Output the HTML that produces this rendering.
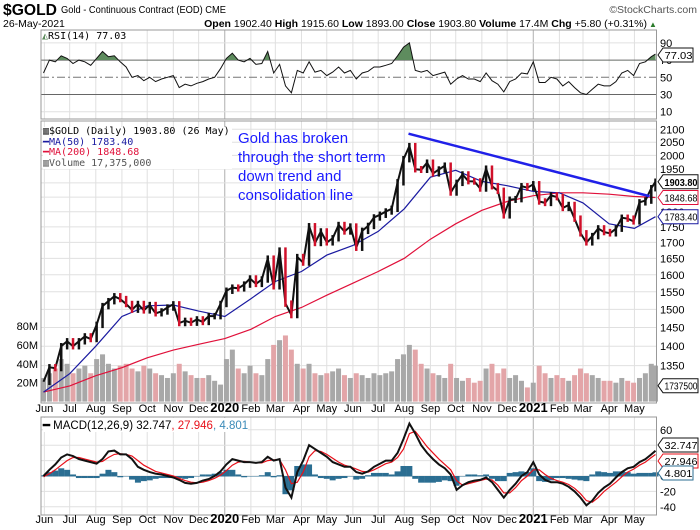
<!DOCTYPE html>
<html><head><meta charset="utf-8"><style>
body{margin:0;background:#fff;}
svg{display:block;font-family:"Liberation Sans",sans-serif;}
</style></head><body>
<svg id="c" width="700" height="530" viewBox="0 0 700 530">
<text x="3" y="15" font-size="16" font-weight="bold" textLength="54" lengthAdjust="spacingAndGlyphs">$GOLD</text>
<text x="61" y="13" font-size="10.5" textLength="165" lengthAdjust="spacingAndGlyphs">Gold - Continuous Contract (EOD) CME</text>
<text x="697" y="13" font-size="10.5" fill="#555" text-anchor="end">©StockCharts.com</text>
<text x="3" y="27" font-size="10.5">26-May-2021</text>
<text x="647" y="27" font-size="10.5" text-anchor="end"><tspan font-weight="bold">Open</tspan> 1902.40 <tspan font-weight="bold">High</tspan> 1915.60 <tspan font-weight="bold">Low</tspan> 1893.00 <tspan font-weight="bold">Close</tspan> 1903.80 <tspan font-weight="bold">Volume</tspan> 17.4M <tspan font-weight="bold">Chg</tspan> +5.80 (+0.31%)</text>
<text x="649" y="27" font-size="8" fill="#2a7a2a">▲</text>
<g id="grid"></g>
<g id="marks"></g>
<g id="labels"></g>
</svg>
<script>
const startDate = "2019-05-31";
const closes = [1310,1346,1344,1400,1413, 1400,1413,1426,1419, 1457,1509,1523,1537,1529, 1515,1499,1515,1497, 1512,1489,1494,1505, 1514,1462,1468,1463,1472, 1465,1481,1481,1515,
1553,1562,1560,1571,1589, 1573,1586,1649,1566, 1674,1516,1484,1654, 1637,1752,1698,1735, 1700,1713,1756,1735,1751, 1683,1737,1753,1781, 1790,1801,1810,1902,1986, 2035,1949,1947,1973, 1934,1948,1962,1866, 1900,1930,1906,1905,1880, 1951,1888,1872,1788, 1841,1843,1888,1883,
1895,1835,1830,1856,1850, 1813,1823,1777,1729, 1700,1720,1745,1733, 1729,1744,1780,1777,1768, 1832,1838,1881,1904];
const volumes = [25,30,35,45,40, 30,35,38,30, 45,50,40,35,38, 40,35,32,38, 35,30,28,25, 30,40,32,28,25, 25,28,22,18,
45,55,35,30,38, 30,28,45,60, 65,70,55,40, 35,40,30,28, 30,32,35,28,25, 30,28,25,30, 28,30,32,45,50, 60,55,40,35, 30,28,25,40, 25,22,25,20,22, 35,40,30,35, 25,28,22,15,
20,38,30,25,28, 25,22,28,35, 30,28,25,22, 22,20,25,22,20, 25,30,40,38];
const rsi = [55,70,68,75,72, 66,70,68,64, 72,80,74,75,68, 62,50,52,46, 50,45,48,50, 52,38,42,40,43, 45,48,50,60,
72,78,70,68,72, 65,66,80,55, 65,40,32,58, 55,68,56,58, 52,56,62,55,58, 48,55,57,62, 62,64,66,75,85, 90,58,56,58, 52,54,56,42, 48,52,48,48,45, 55,46,42,33, 45,48,55,54,
68,44,44,50,48, 40,45,38,32, 30,36,42,40, 40,45,55,58,52, 66,68,74,77];
const macd = [0,8,15,24,28, 26,22,20,18, 16,22,32,33,28, 28,22,12,8, 5,3,2,0, -2,-5,-9,-10,-9, -6,-4,0,6,
15,22,20,18,18, 17,18,25,20, 22,-15,-28,5, 20,40,35,30, 25,18,15,12,12, 5,3,6,12, 16,20,20,30,48, 68,55,40,30, 22,15,10,2, -18,-12,-8,-6,-5, -2,-8,-18,-28, -18,-10,0,5,
18,2,-5,-8,-8, -10,-14,-20,-28, -38,-32,-22,-15, -10,-2,5,10,12, 18,22,28,32.7];
const signal = [-1,3,8,14,20, 24,24,22,20, 18,19,24,28,29, 28,26,20,14, 10,6,4,2, 0,-3,-6,-8,-9, -8,-6,-3,1,
7,14,18,19,18, 17,17,20,21, 21,8,-10,-8, 5,25,33,32, 28,23,18,14,12, 9,6,5,8, 12,16,18,24,35, 55,58,48,38, 30,22,15,8, -6,-12,-10,-8,-6, -4,-5,-12,-22, -22,-15,-6,0,
8,8,2,-3,-6, -8,-11,-16,-23, -32,-34,-28,-20, -14,-8,-1,5,9, 14,18,24,27.9];
const ma50Dates = ["2019-05-31","2019-07-01","2019-08-01","2019-09-01","2019-10-01","2019-11-01","2019-12-01","2020-01-01","2020-02-01","2020-03-01","2020-04-01","2020-05-01","2020-06-01","2020-07-01","2020-08-01","2020-09-01","2020-10-01","2020-11-01","2020-12-01","2021-01-01","2021-02-01","2021-03-01","2021-04-01","2021-05-01","2021-05-26"];
const ma50 = [1285,1330,1400,1480,1510,1512,1495,1480,1530,1580,1610,1660,1690,1735,1810,1920,1945,1905,1890,1870,1865,1830,1760,1745,1783.4];
const ma200 = [1285,1300,1325,1345,1370,1390,1405,1420,1445,1480,1505,1540,1575,1610,1650,1710,1760,1805,1835,1855,1865,1865,1860,1852,1848.68];
const priceTicks = [2100,2050,2000,1950,1900,1850,1800,1750,1700,1650,1600,1550,1500,1450,1400,1350];
const volTicks = [20,40,60,80];
const rsiTicks = [90,70,50,30,10];
const macdTicks = [60,40,20,0,-20,-40];
const monthLabels = ["Jun","Jul","Aug","Sep","Oct","Nov","Dec","2020","Feb","Mar","Apr","May","Jun","Jul","Aug","Sep","Oct","Nov","Dec","2021","Feb","Mar","Apr","May"];
const monthDates = ["2019-06-01","2019-07-01","2019-08-01","2019-09-01","2019-10-01","2019-11-01","2019-12-01","2020-01-01","2020-02-01","2020-03-01","2020-04-01","2020-05-01","2020-06-01","2020-07-01","2020-08-01","2020-09-01","2020-10-01","2020-11-01","2020-12-01","2021-01-01","2021-02-01","2021-03-01","2021-04-01","2021-05-01"];
const trendDates = ["2020-08-06","2021-05-19"];
const trendPrices = [2083,1853];

const NS="http://www.w3.org/2000/svg";
const D0=Date.parse("2019-05-28"), L=41, R=656.5;
function xd(s){return L+(Date.parse(s)-D0)/86400000/729*(R-L-1);}
function xi(i){let t=Date.parse(startDate)+i*7*86400000; t=Math.min(t,Date.parse("2021-05-26"));return L+(t-D0)/86400000/729*(R-L-1);}
function yp(p){return 129.3+535*Math.log(2100/p);}
function yv(v){return 401.6-v*0.945;}
function yr(v){return 77.3-(v-50)*0.86;}
function ym(v){return 476-v*0.77;}
function mk(tag,attrs,parent,text){const e=document.createElementNS(NS,tag);for(const k in attrs)e.setAttribute(k,attrs[k]);if(text!==undefined)e.textContent=text;document.getElementById(parent).appendChild(e);return e;}
const P={rsi:[30,119],main:[121,403],macd:[417,515]};

for(const k in P){
  const [t,b]=P[k];
  const bg=mk('rect',{x:L,y:t,width:R-L,height:b-t,fill:'#fff'},'grid');
  
  
  monthDates.forEach((d,i)=>{
    const yr_=monthLabels[i].length===4;
    const g=mk('line',{x1:xd(d),x2:xd(d),y1:t,y2:b,stroke:yr_?'#b0b0b0':'#e0e0e0','stroke-width':1},'grid');
    
    
  });
}
priceTicks.forEach(p=>{const y=yp(p);
  const g=mk('line',{x1:L,x2:R,y1:y,y2:y,stroke:'#e0e0e0'},'grid');
  
  
  const t=mk('text',{x:660,y:y+4,'font-size':11},'labels',String(p));
  
  
});
volTicks.forEach(v=>{const t=mk('text',{x:38,y:yv(v)+4,'font-size':11,'text-anchor':'end'},'labels',v+'M');
  
  });
rsiTicks.forEach(v=>{const y=yr(v);
  if(v!==90&&v!==10){const g=mk('line',{x1:L,x2:R,y1:y,y2:y,stroke:v===50?'#777':'#666','stroke-dasharray':v===50?'8,3,2,3':'none'},'grid');
    
    }
  else{const g=mk('line',{x1:L,x2:R,y1:y,y2:y,stroke:'#e0e0e0'},'grid');
    
    }
  const t=mk('text',{x:660,y:y+4,'font-size':11},'labels',String(v));
  
  
});
macdTicks.forEach(v=>{const y=ym(v);
  const g=mk('line',{x1:L,x2:R,y1:y,y2:y,stroke:'#e0e0e0'},'grid');
  
  
  const t=mk('text',{x:660,y:y+4,'font-size':11},'labels',String(v));
  
  
});
[412,523].forEach(yy=>monthDates.forEach((d,i)=>{
  const yrl=monthLabels[i].length===4;
  const t=mk('text',{x:xd(d),y:yy,'font-size':yrl?13:11,'font-weight':yrl?'bold':'normal','text-anchor':'middle'},'labels',monthLabels[i]);
  
  
}));

volumes.forEach((v,i)=>{const up=i===0||closes[i]>=closes[i-1];
  const b=mk('rect',{x:xi(i)-2.5,y:yv(v),width:5,height:401.6-yv(v),fill:up?'#a8a8a8':'#e3a5a8'},'marks');
  
  
});
function polyPts(ds,vs,fy){return ds.map((d,i)=>xd(d).toFixed(1)+','+fy(vs[i]).toFixed(1)).join(' ');}
const m2=mk('polyline',{points:polyPts(ma50Dates,ma200,yp),fill:'none',stroke:'#e0103a','stroke-width':1.2},'marks');


const m1=mk('polyline',{points:polyPts(ma50Dates,ma50,yp),fill:'none',stroke:'#1a1aa0','stroke-width':1.2},'marks');


const pl=mk('polyline',{points:closes.map((c,i)=>xi(i).toFixed(1)+','+yp(c).toFixed(1)).join(' '),fill:'none',stroke:'#111','stroke-width':2},'marks');


closes.forEach((c,i)=>{if(i===0)return;const p=closes[i-1];const up=c>=p;
  const b=mk('line',{x1:xi(i),x2:xi(i),y1:yp(Math.max(c,p)*1.006),y2:yp(Math.min(c,p)*0.994),stroke:up?'#111':'#d0102a','stroke-width':2.5},'marks');
  
  
});
const tl=mk('line',{x1:xd(trendDates[0]),y1:yp(trendPrices[0]),x2:xd(trendDates[1]),y2:yp(trendPrices[1]),stroke:'#2020e8','stroke-width':2.5},'marks');



const rp=rsi.map((v,i)=>xi(i).toFixed(1)+','+yr(v).toFixed(1));
mk('clipPath',{id:'ob'},'marks');
mk('rect',{x:L,y:30,width:R-L,height:yr(70)-30},'ob');
const fa=mk('polygon',{points:xi(0)+','+yr(70)+' '+rp.join(' ')+' '+xi(rsi.length-1)+','+yr(70),fill:'#5e8c5e','clip-path':'url(#ob)'},'marks');


const rl=mk('polyline',{points:rp.join(' '),fill:'none',stroke:'#111','stroke-width':1},'marks');



macd.forEach((v,i)=>{const h=v-signal[i];
  const b=mk('rect',{x:xi(i)-3,y:Math.min(ym(h),ym(0)),width:6,height:Math.abs(ym(h)-ym(0))+0.5,fill:'#2b6e92'},'marks');
  
  
});
const sl=mk('polyline',{points:signal.map((v,i)=>xi(i).toFixed(1)+','+ym(v).toFixed(1)).join(' '),fill:'none',stroke:'#e8101a','stroke-width':1.2},'marks');


const ml=mk('polyline',{points:macd.map((v,i)=>xi(i).toFixed(1)+','+ym(v).toFixed(1)).join(' '),fill:'none',stroke:'#111','stroke-width':2},'marks');



for(const k in P){const [t,b]=P[k];
  const r=mk('rect',{x:L,y:t,width:R-L,height:b-t,fill:'none',stroke:'#999'},'marks');
  
  }

function box(y,txt,col,bold,name){
  const w=Math.min(699-664,txt.length*5.4+3);
  const g=mk('path',{d:`M658 ${y} l5 -7 h${w} v14 h-${w} z`,fill:'#fff',stroke:col,'stroke-width':1},'labels');
  
  
  const t=mk('text',{x:664.5,y:y+4,'font-size':10,'font-weight':bold?'bold':'normal',textLength:w-2,lengthAdjust:'spacingAndGlyphs'},'labels',txt);
  
  
}
box(55,'77.03','#111',false,'rsi-current');
box(yp(1903.8),'1903.80','#111',true,'price-current');
box(yp(1848.68),'1848.68','#e0103a',false,'ma200-current');
box(yp(1783.4),'1783.40','#1a1aa0',false,'ma50-current');
box(385.7,'1737500','#111',false,'volume-current');
box(461,'27.946','#e8101a',false,'signal-current');
box(445,'32.747','#111',false,'macd-current');
box(473,'4.801','#2b6e92',false,'histogram-current');
</script>
<div style="position:absolute;left:42px;top:31px;font:10px 'DejaVu Sans Mono','Liberation Mono',monospace;background:#fff"><span style="color:#5e8c5e">◭</span>RSI(14) 77.03</div>
<div style="position:absolute;left:43px;top:127px;font:10px 'DejaVu Sans Mono','Liberation Mono',monospace;line-height:10.5px;background:#fff;padding-right:2px">
<div>▥$GOLD (Daily) 1903.80 (26 May)</div>
<div style="color:#1a1aa0">━MA(50) 1783.40</div>
<div style="color:#e0103a">━MA(200) 1848.68</div>
<div style="color:#555">▥Volume 17,375,000</div>
</div>
<div style="position:absolute;left:238px;top:129px;font:15px 'Liberation Sans',sans-serif;line-height:19px;color:#1a1aff">Gold has broken<br>through the short term<br>down trend and<br>consolidation line</div>
<div style="position:absolute;left:43px;top:418px;font:11.5px 'Liberation Sans',sans-serif;background:#fff"><b>━</b> MACD(12,26,9) 32.747<span style="color:#e8101a">, 27.946</span><span style="color:#3a8ab8">, 4.801</span></div>
</body></html>
